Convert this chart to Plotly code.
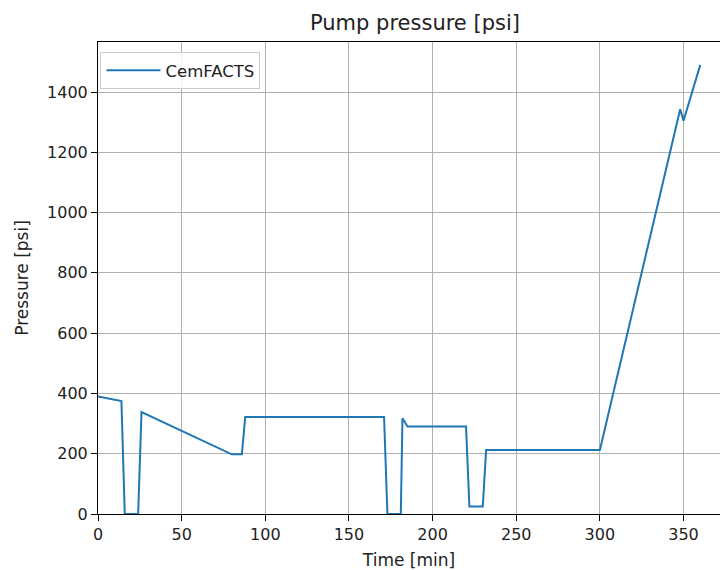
import plotly.graph_objects as go

time_min = [0, 14, 16, 24, 26, 80, 86, 88, 171, 173, 181, 182, 185, 220, 222, 230, 232, 300, 348, 350, 360]
pressure_psi = [390, 375, 0, 0, 338, 198, 198, 322, 322, 0, 0, 318, 290, 290, 25, 25, 212, 212, 1343, 1305, 1490]
series_name = "CemFACTS"
x_ticks = [0, 50, 100, 150, 200, 250, 300, 350]
y_ticks = [0, 200, 400, 600, 800, 1000, 1200, 1400]

fig = go.Figure()
fig.add_trace(go.Scatter(x=time_min, y=pressure_psi, mode="lines", name=series_name,
                         line=dict(color="#1f77b4", width=2)))

font = "DejaVu Sans, sans-serif"
axis_common = dict(showgrid=True, gridcolor="#b0b0b0", gridwidth=1, zeroline=False,
                   showline=True, linecolor="black", linewidth=1, ticks="outside",
                   ticklen=6, tickcolor="black", tickfont=dict(family=font, size=16, color="#222222"))

fig.update_layout(
    width=720, height=570,
    margin=dict(l=98, r=0, t=42, b=56),
    paper_bgcolor="white", plot_bgcolor="white",
    font=dict(family=font, color="#222222"),
    title=dict(text="Pump pressure [psi]", x=415 / 720, xanchor="center", y=1 - 23 / 570, yanchor="middle",
               font=dict(family=font, size=21, color="#222222")),
    xaxis=dict(range=[0, 371.8], tickvals=x_ticks, mirror=True,
               title=dict(text="Time [min]", font=dict(family=font, size=17), standoff=10), **axis_common),
    yaxis=dict(range=[0, 1566], tickvals=y_ticks, mirror=False,
               title=dict(text="Pressure [psi]", font=dict(family=font, size=17), standoff=14), **axis_common),
    showlegend=True,
    legend=dict(x=0.004, y=0.979, xanchor="left", yanchor="top", bgcolor="rgba(255,255,255,0.8)",
                bordercolor="#cccccc", borderwidth=1, font=dict(family=font, size=16.5),
                itemwidth=54),
)

fig.write_html("out.html")
